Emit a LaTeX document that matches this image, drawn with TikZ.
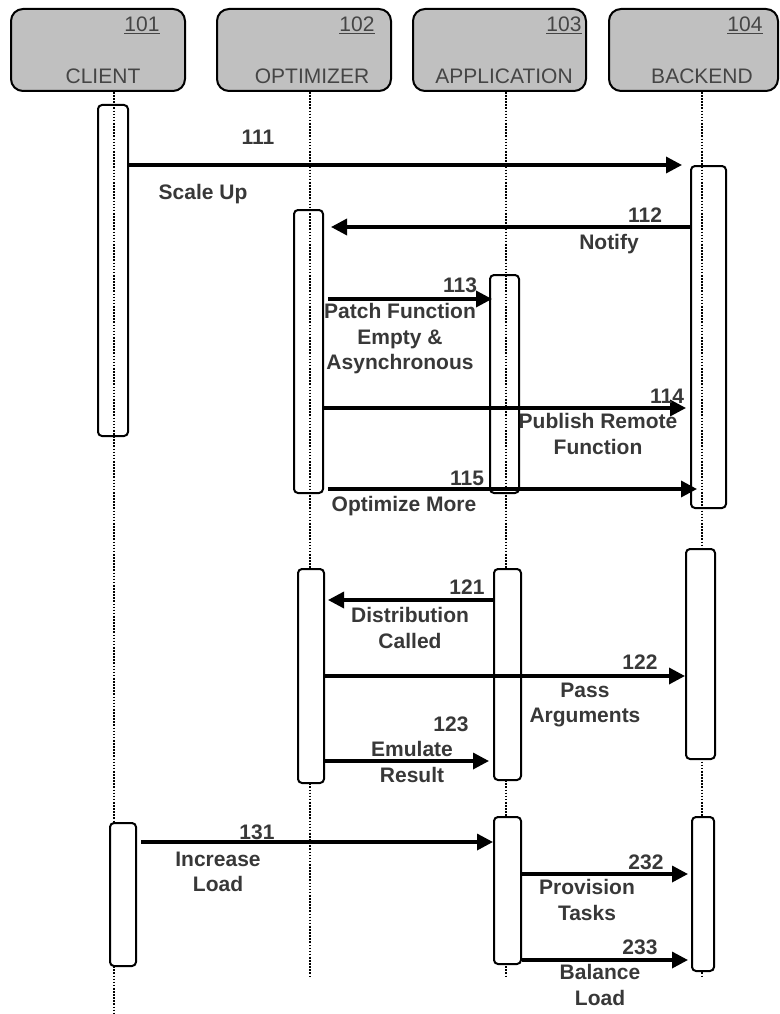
\documentclass[tikz,border=0pt]{standalone}
\usepackage{fontspec}
\setmainfont{Liberation Sans}
\usetikzlibrary{arrows.meta}
\definecolor{hdrbg}{HTML}{C0C0C0}
\definecolor{hdrtx}{HTML}{454545}
\definecolor{lbltx}{HTML}{383838}
\tikzset{seqp/.style={
  x=1pt,
  y=-1pt
}}
\tikzset{hdr/.style={
  draw,
  fill=hdrbg,
  line width=2pt,
  rounded corners=12pt,
  minimum height=82pt,
  inner sep=0pt,
}}
\tikzset{htx/.style={
  text=hdrtx,
  font=\fontsize{21}{25}\selectfont,
  inner sep=0pt,
  anchor=north,
}}
\tikzset{act/.style={
  draw,
  line width=2pt,
  rounded corners=4pt,
  inner sep=0pt,
}}
\tikzset{actw/.style={act,fill=white}}
\tikzset{life/.style={line width=1.6pt,dash pattern=on 1.6pt off 1.5pt}}
\tikzset{msg/.style={line width=3.4pt,-{Triangle[length=16pt,width=16pt]}}}
\tikzset{lbl/.style={
  text=lbltx,
  font=\bfseries\fontsize{21}{25.3}\selectfont,
  inner sep=0pt,
  anchor=north,
  align=center,
}}
\begin{document}
\begin{tikzpicture}[seqp]
    \useasboundingbox (0,0) rectangle (779,1014);

    %% Headers

    \node[hdr,minimum width=174pt] (client) at (98,50) {};
    \node[hdr,minimum width=174pt] (optim) at (304,50) {};
    \node[hdr,minimum width=173pt] (appl) at (499.5,50) {};
    \node[hdr,minimum width=169pt] (backend) at (693.5,50) {};
    \node[htx] (nclient) at (142,16.5) {\underline{101}};
    \node[htx] (noptim) at (357,16.5) {\underline{102}};
    \node[htx] (nappl) at (564,16.5) {\underline{103}};
    \node[htx] (nbackend) at (745,16.5) {\underline{104}};
    \node[htx] (tclient) at (103,68.5) {CLIENT};
    \node[htx] (toptim) at (312,68.5) {OPTIMIZER};
    \node[htx] (tappl) at (504,68.5) {APPLICATION};
    \node[htx] (tbackend) at (702,68.5) {BACKEND};

    % Lifelines
    \draw[life] (114,92) -- (114,1014);
    \draw[life] (310,92) -- (310,977);
    \draw[life] (506,92) -- (506,977);
    \draw[life] (702,92) -- (702,977);

    %% Activations

    % Scale up
    \node[act,minimum width=30pt,minimum height=331pt] (c1) at (113,270.5) {};
    \node[act,minimum width=35pt,minimum height=342pt] (b1) at (708.5,337) {};
    \node[act,minimum width=29pt,minimum height=283pt] (o1) at (308.5,351.5) {};
    \node[act,minimum width=29pt,minimum height=218pt] (a1) at (504.5,384) {};

    % Distribution
    \node[actw,minimum width=29pt,minimum height=210pt] (b2) at (700.5,654) {};
    \node[actw,minimum width=26pt,minimum height=214pt] (o2) at (311,676) {};
    \node[actw,minimum width=27pt,minimum height=211pt] (a2) at (507.5,674.5) {};

    % Load
    \node[actw,minimum width=26pt,minimum height=143pt] (c3) at (123,894.5) {};
    \node[actw,minimum width=27pt,minimum height=147pt] (a3) at (507.5,890.5) {};
    \node[actw,minimum width=22pt,minimum height=154pt] (b3) at (703,894) {};

    %% Messages

    \coordinate (y111) at (0,165);
    \coordinate (y112) at (0,227);
    \coordinate (y113) at (0,299);
    \coordinate (y114) at (0,408);
    \coordinate (y115) at (0,489);
    \coordinate (y121) at (0,600);
    \coordinate (y122) at (0,676);
    \coordinate (y123) at (0,761);
    \coordinate (y131) at (0,842);
    \coordinate (y232) at (0,874);
    \coordinate (y233) at (0,960);

    \draw[msg,shorten >=8pt] (c1.east |- y111) -- (b1.west |- y111);
    \draw[msg,shorten >=7pt] (b1.west |- y112) -- (o1.east |- y112);
    \draw[msg,shorten <=4pt,shorten >=-3pt] (o1.east |- y113) -- (a1.west |- y113);
    \draw[msg,shorten >=4pt] (o1.east |- y114) -- (b1.west |- y114);
    \draw[msg,shorten <=4pt,shorten >=-7pt] (o1.east |- y115) -- (b1.west |- y115);
    \draw[msg,shorten >=3pt] (a2.west |- y121) -- (o2.east |- y121);
    \draw[msg] (o2.east |- y122) -- (b2.west |- y122);
    \draw[msg,shorten >=4pt] (o2.east |- y123) -- (a2.west |- y123);
    \draw[msg,shorten <=4pt] (c3.east |- y131) -- (a3.west |- y131);
    \draw[msg,shorten >=3pt] (a3.east |- y232) -- (b3.west |- y232);
    \draw[msg,shorten >=3pt] (a3.east |- y233) -- (b3.west |- y233);

    % Labels
    \node[lbl] (l111) at (258,129.5) {111};
    \node[lbl] (t111) at (203,184.5) {Scale Up};
    \node[lbl] (l112) at (645,207.5) {112};
    \node[lbl] (t112) at (609,234.5) {Notify};
    \node[lbl] (l113) at (460,277.5) {113};
    \node[lbl] (t113) at (400,303.5) {Patch Function\\Empty \&\\Asynchronous};
    \node[lbl] (l114) at (667,388.5) {114};
    \node[lbl] (t114) at (598,413.5) {Publish Remote\\Function};
    \node[lbl] (l115) at (467,470.5) {115};
    \node[lbl] (t115) at (404,496.5) {Optimize More};
    \node[lbl] (l121) at (467,579.5) {121};
    \node[lbl] (t121) at (410,607.5) {Distribution\\Called};
    \node[lbl] (l122) at (640,654.5) {122};
    \node[lbl] (t122) at (585,682.5) {Pass\\Arguments};
    \node[lbl] (l123) at (451,716.5) {123};
    \node[lbl] (t123) at (412,741.5) {Emulate\\Result};
    \node[lbl] (l131) at (257,824.5) {131};
    \node[lbl] (t131) at (218,851.5) {Increase\\Load};
    \node[lbl] (l232) at (646,854.5) {232};
    \node[lbl] (t232) at (587,879.5) {Provision\\Tasks};
    \node[lbl] (l233) at (640,939.5) {233};
    \node[lbl] (t233) at (600,964.5) {Balance\\Load};

  \end{tikzpicture}
\end{document}
